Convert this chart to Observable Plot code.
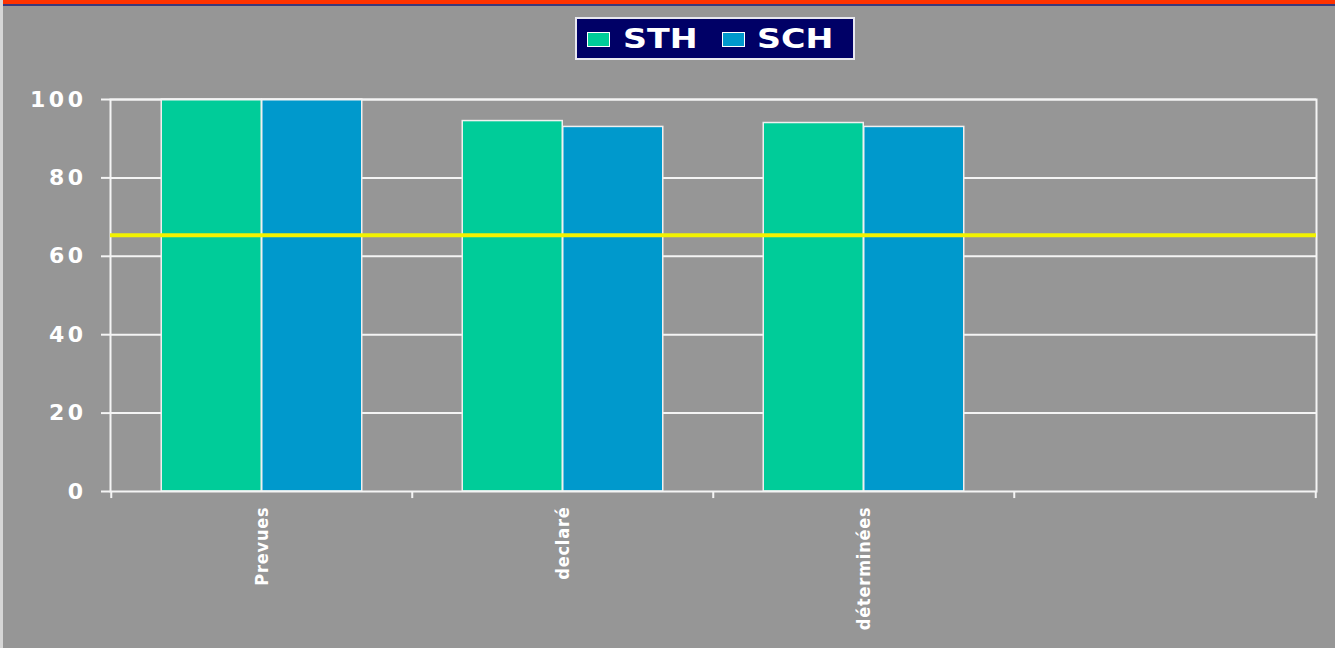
<!DOCTYPE html>
<html>
<head>
<meta charset="utf-8">
<script src="https://cdn.jsdelivr.net/npm/d3@7"></script>
<script src="https://cdn.jsdelivr.net/npm/@observablehq/plot@0.6"></script>
<style>
  body { margin: 0; background: #969696; }
  #wrap { position: relative; width: 1335px; height: 648px; overflow: hidden; background: #969696; }
  #leftedge { position: absolute; left: 0; top: 0; width: 3px; height: 648px; background: #d6d6d6; }
  #redbar { height: 4px; background: #ff3300; }
  #navybar { height: 2px; background: #3a3a7a; }
  #legendrow { position: relative; height: 64px; }
  #legend { position: absolute; left: 575px; top: 11px; width: 276px; height: 39px; background: #000066; border: 2px solid #e8e8f0; }
  .sw { position: absolute; top: 13px; width: 21px; height: 13px; border: 1px solid #ffffff; }
  .lt { position: absolute; top: 3px; font-family: "DejaVu Sans", sans-serif; font-weight: bold; font-size: 26px; line-height: 34px; color: #ffffff; transform: scaleX(1.28); transform-origin: left center; }
  #chart { position: relative; }
  g[aria-label="x-axis tick label"] text { letter-spacing: 0.8px; }
  g[aria-label="y-axis tick label"] text { letter-spacing: 3.5px; }
</style>
</head>
<body>
<div id="wrap">
  <div id="redbar"></div>
  <div id="navybar"></div>
  <div id="legendrow">
    <div id="legend"></div>
  </div>
  <div id="chart"></div>
  <div id="leftedge"></div>
</div>
<script>
// ---- data ----
const categories = ["Prevues", "declaré", "déterminées", ""];
const seriesNames = ["STH", "SCH"];
const sthValues = [100, 94.5, 94];
const schValues = [100, 93, 93];
const thresholdValue = 65.4;
const yTicks = [0, 20, 40, 60, 80, 100];
const seriesColors = ["#00cc99", "#0099cc"];

// ---- legend ----
const legend = document.getElementById("legend");
const swLeft = [10, 145];
const txtLeft = [46, 180];
seriesNames.forEach((name, i) => {
  const sw = document.createElement("div");
  sw.className = "sw";
  sw.style.left = swLeft[i] + "px";
  sw.style.background = seriesColors[i];
  legend.appendChild(sw);
  const t = document.createElement("div");
  t.className = "lt";
  t.style.left = txtLeft[i] + "px";
  t.textContent = name;
  legend.appendChild(t);
});

// ---- chart ----
const rowsSTH = sthValues.map((v, i) => ({cat: categories[i], value: v}));
const rowsSCH = schValues.map((v, i) => ({cat: categories[i], value: v}));

const W = 1335, H = 578;
const mL = 110, mR = 19, mT = 29, mB = 157;
const band = (W - mL - mR) / categories.length;

const chart = Plot.plot({
  width: W,
  height: H,
  marginLeft: mL,
  marginRight: mR,
  marginTop: mT,
  marginBottom: mB,
  style: {background: "#969696", overflow: "visible"},
  x: {type: "band", domain: categories, padding: 0},
  y: {domain: [0, 100]},
  marks: [
    Plot.ruleY(yTicks.filter(d => d > 0), {stroke: "#f4f4f4", strokeWidth: 2}),
    Plot.barY(rowsSTH, {x: "cat", y: "value", fill: seriesColors[0], stroke: "#f0f0f0", strokeWidth: 1.5,
      insetLeft: band / 6, insetRight: band / 2}),
    Plot.barY(rowsSCH, {x: "cat", y: "value", fill: seriesColors[1], stroke: "#f0f0f0", strokeWidth: 1.5,
      insetLeft: band / 2, insetRight: band / 6}),
    Plot.frame({stroke: "#f4f4f4", strokeWidth: 2}),
    Plot.ruleX(categories, {x: d => d, dx: -band / 2, y1: 0, y2: -1.8, stroke: "#f4f4f4", strokeWidth: 2}),
    Plot.ruleX([categories[categories.length - 1]], {x: d => d, dx: band / 2, y1: 0, y2: -1.8, stroke: "#f4f4f4", strokeWidth: 2}),
    Plot.ruleY([thresholdValue], {stroke: "#f2f200", strokeWidth: 4}),
    Plot.axisY({ticks: yTicks, tickSize: 9, tickPadding: 15, stroke: "#f4f4f4", strokeWidth: 2,
      fill: "#ffffff", fontSize: 22, fontWeight: "bold", fontFamily: "DejaVu Sans", label: null}),
    Plot.axisX({tickSize: 0, tickPadding: 15, tickRotate: -90, fill: "#ffffff",
      fontSize: 18, fontWeight: "bold", fontFamily: "DejaVu Sans Condensed", label: null})
  ]
});
document.getElementById("chart").appendChild(chart);
</script>
</body>
</html>
